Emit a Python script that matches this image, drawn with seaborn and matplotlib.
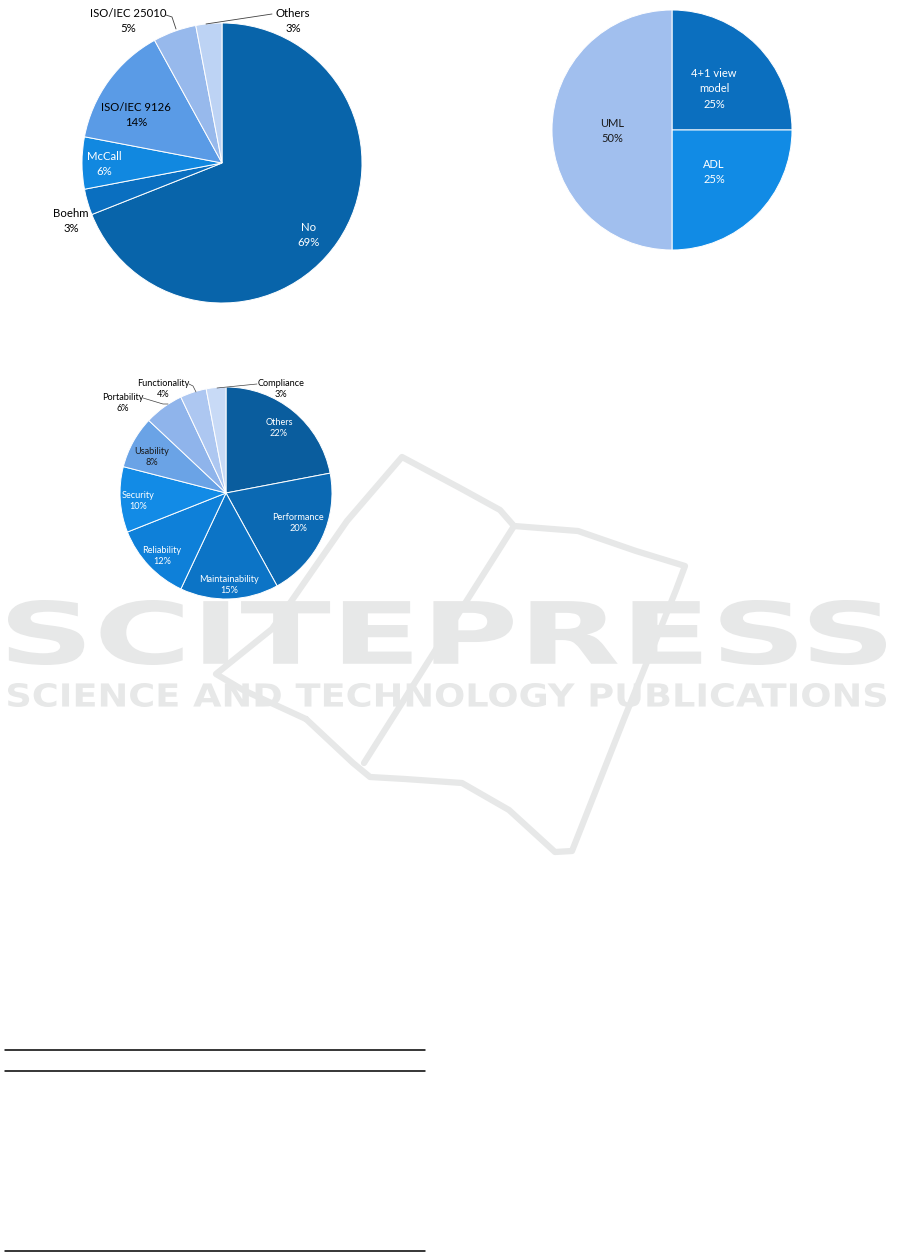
import matplotlib
matplotlib.use("Agg")
import matplotlib.pyplot as plt
import seaborn as sns
from matplotlib.textpath import TextPath
from matplotlib.patches import PathPatch
from matplotlib.font_manager import FontProperties
from matplotlib.transforms import Affine2D

sns.set_theme(style="white")
plt.rcParams["font.family"] = ["Lato", "DejaVu Sans"]

# data: quality model usage
model_names = ["No", "Boehm", "McCall", "ISO/IEC 9126", "ISO/IEC 25010", "Others"]
model_pct = [69, 3, 6, 14, 5, 3]
model_colors = ["#0864aa", "#0a6fc0", "#1188e0", "#5a9be6", "#97b9ec", "#bdd3f4"]
model_text = ["white", "black", "white", "black", "black", "black"]

# data: architecture notation
notation_names = ["4+1 view\nmodel", "ADL", "UML"]
notation_pct = [25, 25, 50]
notation_colors = ["#0b6fbf", "#118be5", "#a1bfee"]
notation_text = ["white", "white", "#1a1a1a"]

# data: quality attributes
attr_names = ["Others", "Performance", "Maintainability", "Reliability", "Security",
              "Usability", "Portability", "Functionality", "Compliance"]
attr_pct = [22, 20, 15, 12, 10, 8, 6, 4, 3]
attr_colors = ["#0a5d9e", "#0b69b3", "#0c74c6", "#0e80d9", "#128be6",
               "#6aa3e6", "#8fb4eb", "#adc7f1", "#c8daf6"]
attr_text = ["white", "white", "white", "white", "white", "#1a1a1a", "black", "black", "black"]

W, H = 901, 1252
fig = plt.figure(figsize=(W / 100, H / 100), dpi=100)
ax = fig.add_axes([0, 0, 1, 1])

WM = "#e7e8e8"


def fit_text(s, box, weight="bold"):
    # stretch a text path to fill a pixel box (watermark)
    tp = TextPath((0, 0), s, size=100, prop=FontProperties(family="DejaVu Sans", weight=weight))
    ext = tp.get_extents()
    x0, y0, x1, y1 = box
    tr = (Affine2D().translate(-ext.x0, -ext.y0)
          .scale((x1 - x0) / ext.width, -(y1 - y0) / ext.height)
          .translate(x0, y1))
    ax.add_patch(PathPatch(tr.transform_path(tp), fc=WM, ec="none", zorder=0))


# watermark book outline
book = [(306, 719), (243, 690), (216, 674), (272, 629), (347, 521), (402, 457),
        (460, 488), (500, 510), (514, 526), (578, 531), (636, 551), (685, 566),
        (676, 590), (624, 719), (572, 851), (555, 852), (509, 810), (462, 783),
        (405, 779), (370, 777), (353, 763), (306, 719)]
bx, by = zip(*book)
ax.plot(bx, by, color=WM, lw=4.5, solid_capstyle="round", solid_joinstyle="round", zorder=0)
ax.plot([514, 364], [526, 763], color=WM, lw=4.5, solid_capstyle="round", zorder=0)
fit_text("SCITEPRESS", (8, 600, 886, 665))
fit_text("SCIENCE AND TECHNOLOGY PUBLICATIONS", (8, 683, 886, 707))


def draw_pie(values, colors, center, radius):
    ax.pie(values, colors=colors, center=center, radius=radius,
           startangle=-90, counterclock=True, frame=True,
           wedgeprops=dict(edgecolor="white", linewidth=0.7))


# pie 1
draw_pie(model_pct, model_colors, (222, 163), 140)
pos1 = [(309, 235), (71, 221), (104, 164), (136, 115), (128, 21), (293, 21)]
for n, p, c, (x, y) in zip(model_names, model_pct, model_text, pos1):
    ax.text(x, y, f"{n}\n{p}%", ha="center", va="center", fontsize=8.2,
            color=c, linespacing=1.4, zorder=5)
ax.plot([166, 172, 176], [15, 17, 29], color="#404040", lw=0.6, zorder=5)
ax.plot([272, 206], [14, 24], color="#404040", lw=0.6, zorder=5)

# pie 2
draw_pie(notation_pct, notation_colors, (672, 130), 120)
pos2 = [(714, 89), (714, 172), (612, 131)]
for n, p, c, (x, y) in zip(notation_names, notation_pct, notation_text, pos2):
    ax.text(x, y, f"{n}\n{p}%", ha="center", va="center", fontsize=8,
            color=c, linespacing=1.45, zorder=5)

# pie 3
draw_pie(attr_pct, attr_colors, (226, 493), 106)
pos3 = [(279, 428), (298, 523), (229, 585), (162, 556), (138, 501),
        (152, 457), (123, 403), (163, 389), (281, 389)]
for n, p, c, (x, y) in zip(attr_names, attr_pct, attr_text, pos3):
    ax.text(x, y, f"{n}\n{p}%", ha="center", va="center", fontsize=6.6,
            color=c, linespacing=1.3, zorder=5)
ax.plot([189, 193, 196], [384, 386, 392], color="#404040", lw=0.5, zorder=5)
ax.plot([143, 163, 168], [398, 404, 404], color="#404040", lw=0.5, zorder=5)
ax.plot([257, 217], [384, 388], color="#404040", lw=0.5, zorder=5)

# table rules
for yy in [1050, 1071, 1250.5]:
    ax.plot([5, 425], [yy, yy], color="black", lw=1.1, zorder=5)

ax.set_xlim(0, W)
ax.set_ylim(H, 0)
ax.set_aspect("equal")
ax.axis("off")
fig.savefig("out.png", dpi=100, facecolor="white")
